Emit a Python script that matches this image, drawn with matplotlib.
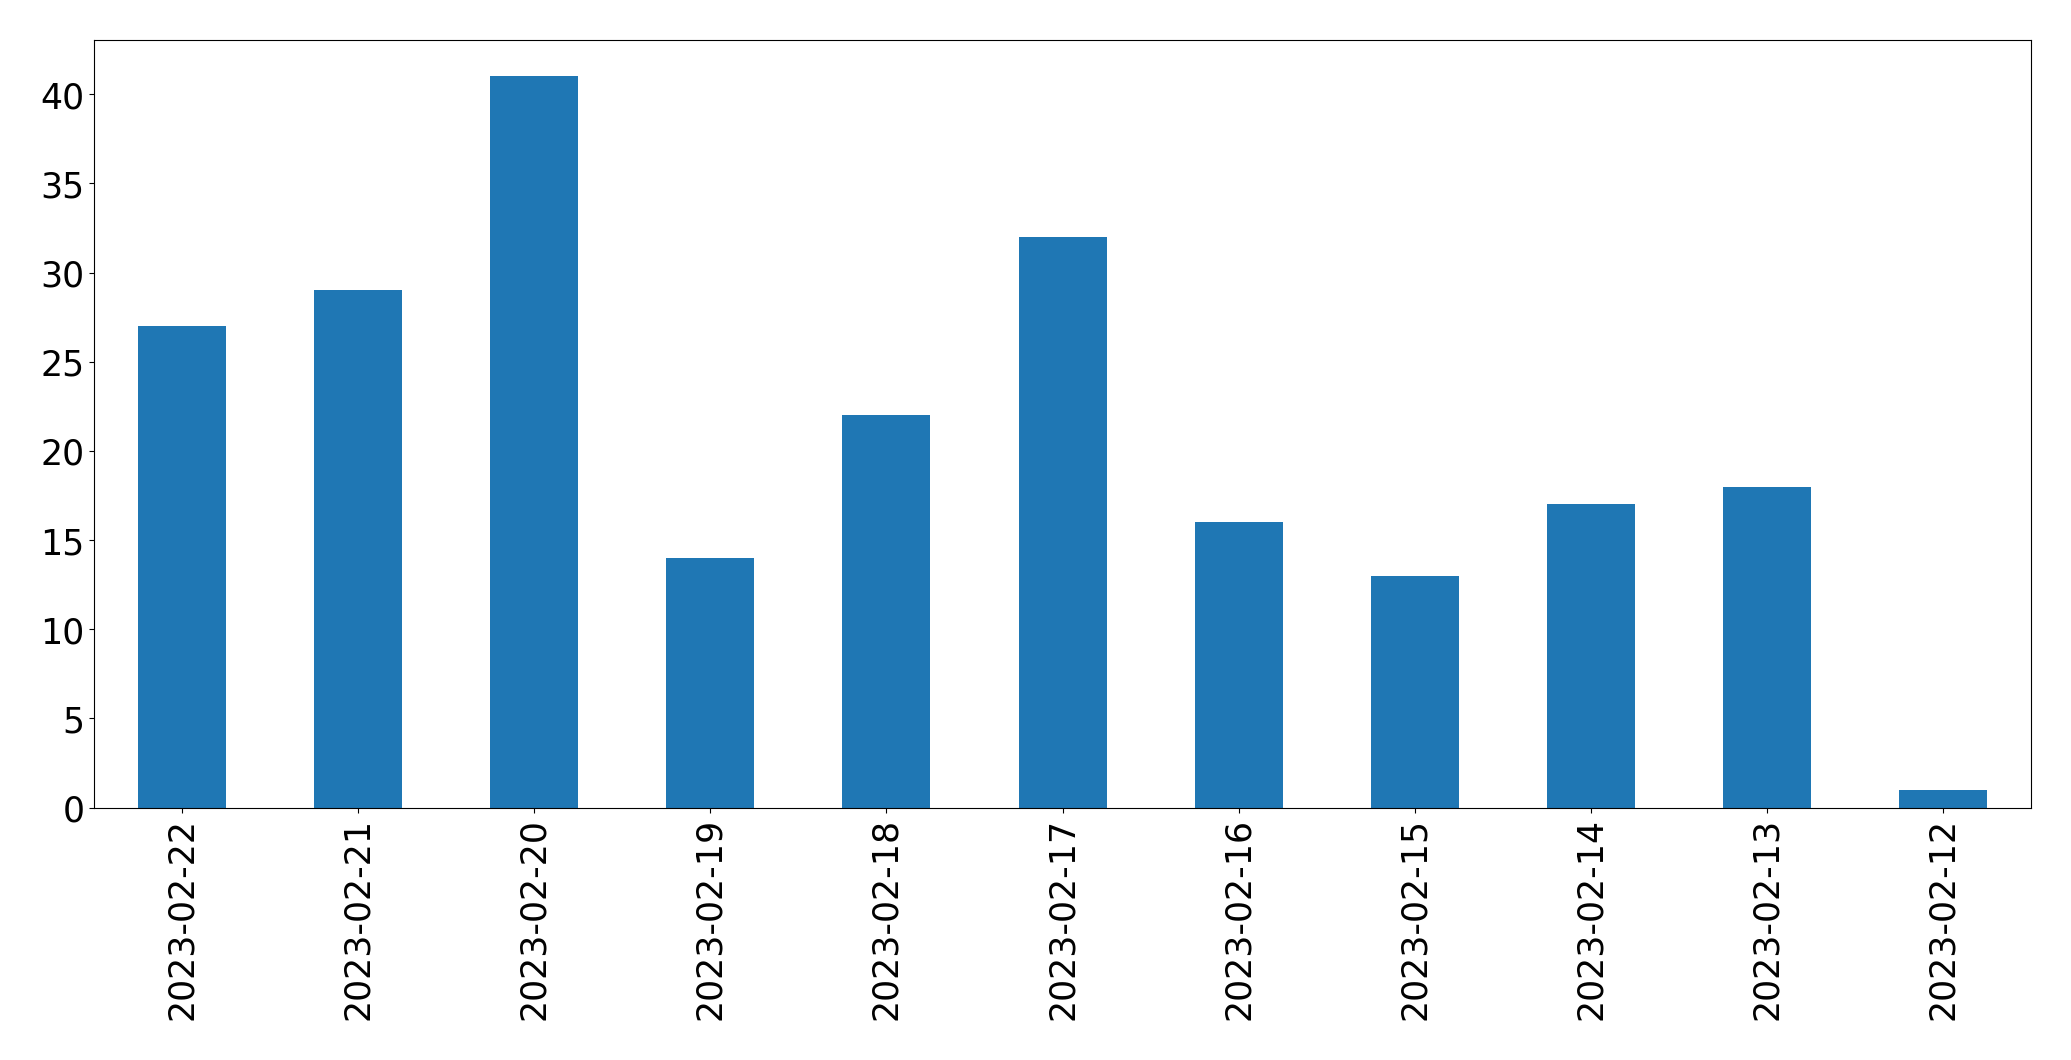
""" Daily counts as a bar chart, newest day first. """

import pandas as pd
import matplotlib
matplotlib.use('Agg')
import matplotlib.pyplot as plt

DATES = ['2023-02-22', '2023-02-21', '2023-02-20', '2023-02-19',
         '2023-02-18', '2023-02-17', '2023-02-16', '2023-02-15',
         '2023-02-14', '2023-02-13', '2023-02-12']
COUNTS = [27, 29, 41, 14, 22, 32, 16, 13, 17, 18, 1]

counts = pd.Series(COUNTS, index=DATES)

fig, ax = plt.subplots(figsize=(20.71, 10.605), dpi=100)
fig.subplots_adjust(left=0.0454, right=0.9807, top=0.962, bottom=0.238)

counts.plot.bar(ax=ax, color='#1f77b4')
ax.tick_params(axis='both', labelsize=25)

fig.savefig('out.png', dpi=100)
